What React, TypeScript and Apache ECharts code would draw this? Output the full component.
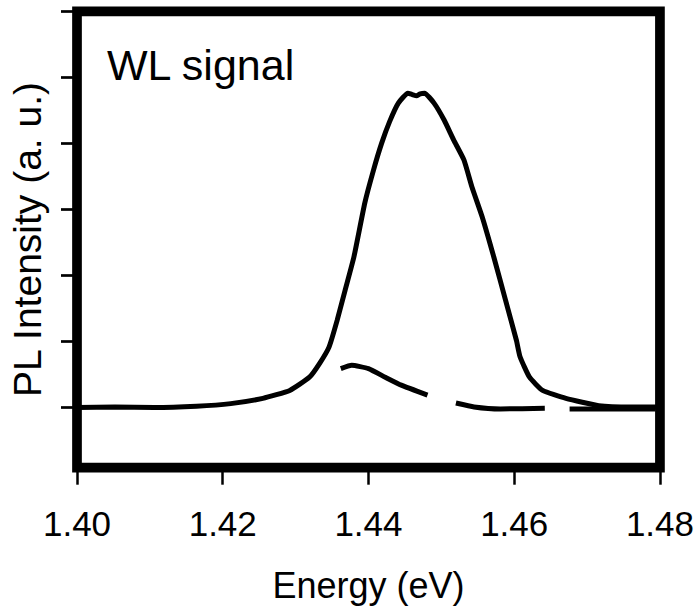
import React, { useEffect, useRef } from "react";
import * as echarts from "echarts";

// Main WL PL spectrum (energy eV, intensity a.u.)
const mainEnergy = [
  1.4, 1.4052, 1.4106, 1.4164, 1.4211, 1.4255, 1.4292, 1.4319, 1.4333, 1.4346,
  1.4357, 1.4368, 1.438, 1.4395, 1.4407, 1.4418, 1.4429, 1.4441, 1.4454, 1.446,
  1.4466, 1.4471, 1.4477, 1.449, 1.4504, 1.4517, 1.4531, 1.4542, 1.4556, 1.4572,
  1.4588, 1.4603, 1.4608, 1.4621, 1.4639, 1.4671, 1.4716, 1.4761, 1.48,
];
const mainIntensity = [
  0.0, 0.01, 0.0, 0.02, 0.06, 0.14, 0.26, 0.46, 0.67, 0.92,
  1.32, 1.78, 2.28, 3.1, 3.6, 4.0, 4.33, 4.61, 4.76, 4.74,
  4.72, 4.75, 4.76, 4.61, 4.35, 4.05, 3.75, 3.34, 2.89, 2.28,
  1.63, 1.02, 0.77, 0.46, 0.26, 0.14, 0.03, 0.01, 0.01,
];

// Second (fragmented) trace; null marks a gap in the record
const lowEnergy = [
  1.4362, 1.4377, 1.44, 1.4423, 1.4445, 1.4481, 1.45,
  1.452, 1.4545, 1.4581, 1.4642, 1.466,
  1.4676, 1.4794,
];
const lowIntensity: (number | null)[] = [
  0.59, 0.64, 0.59, 0.46, 0.34, 0.19, null,
  0.07, 0.01, -0.02, -0.01, null,
  -0.02, -0.02,
];

const xTickValues = [1.4, 1.42, 1.44, 1.46, 1.48];
const yTickValues = [0, 1, 2, 3, 4, 5, 6];

const FONT = "'Liberation Sans', Arial, Helvetica, sans-serif";

export default function App() {
  const ref = useRef<HTMLDivElement>(null);
  useEffect(() => {
    if (!ref.current) return;
    const chart = echarts.init(ref.current, undefined, { renderer: "svg" });
    const mainData = mainEnergy.map((e, i) => [e, mainIntensity[i]]);
    const lowData = lowEnergy.map((e, i) => [e, lowIntensity[i]]);
    chart.setOption({
      animation: false,
      backgroundColor: "#fff",
      grid: {
        left: 71.7,
        right: 35.3,
        top: 11.3,
        bottom: 144.3,
        show: true,
        borderColor: "#000",
        borderWidth: 9.7,
        backgroundColor: "transparent",
      },
      xAxis: {
        type: "value",
        min: 1.4,
        max: 1.48,
        interval: 0.02,
        name: "Energy (eV)",
        nameLocation: "middle",
        nameGap: 100,
        nameTextStyle: { fontFamily: FONT, fontSize: 36, color: "#000" },
        axisLine: { show: false, onZero: false },
        splitLine: { show: false },
        axisTick: {
          show: true,
          inside: false,
          length: 17,
          lineStyle: { color: "#000", width: 2.5 },
          customValues: xTickValues,
        },
        axisLabel: {
          show: true,
          margin: 38,
          fontFamily: FONT,
          fontSize: 35,
          color: "#000",
          customValues: xTickValues,
          formatter: (v: number) => v.toFixed(2),
        },
      },
      yAxis: {
        type: "value",
        min: -0.91,
        max: 6,
        name: "PL Intensity (a. u.)",
        nameLocation: "middle",
        nameRotate: 90,
        nameGap: 30,
        nameTextStyle: { fontFamily: FONT, fontSize: 39, color: "#000" },
        axisLine: { show: false, onZero: false },
        splitLine: { show: false },
        axisLabel: { show: false },
        axisTick: {
          show: true,
          inside: false,
          length: 16,
          lineStyle: { color: "#000", width: 2.7 },
          customValues: yTickValues,
        },
      },
      graphic: [
        {
          type: "text",
          x: 107,
          y: 64.5,
          style: {
            text: "WL signal",
            fontFamily: FONT,
            fontSize: 43,
            fill: "#000",
            align: "left",
            verticalAlign: "middle",
          },
        },
      ],
      series: [
        {
          type: "line",
          data: mainData,
          showSymbol: false,
          smooth: 0.15,
          lineStyle: { color: "#000", width: 5 },
          z: 3,
        },
        {
          type: "line",
          data: lowData,
          showSymbol: false,
          smooth: 0.15,
          connectNulls: false,
          lineStyle: { color: "#000", width: 5 },
          z: 3,
        },
      ],
    });
    return () => chart.dispose();
  }, []);
  return (
    <div
      ref={ref}
      style={{ position: "fixed", left: 0, top: 0, width: 697, height: 612 }}
    />
  );
}
